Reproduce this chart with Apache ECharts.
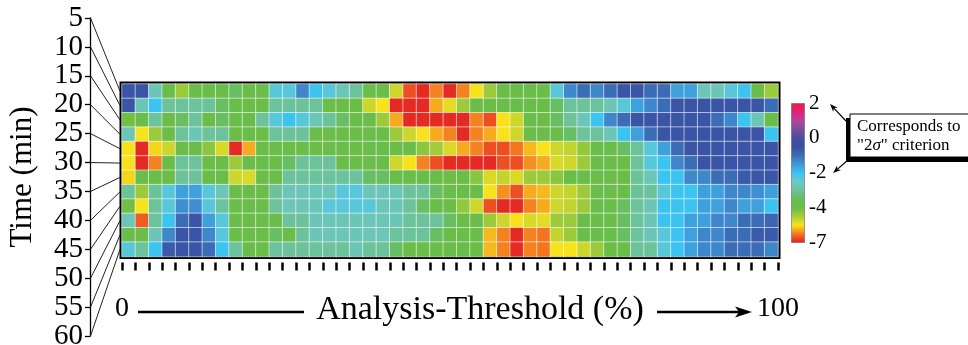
<!DOCTYPE html>
<html>
<head>
<meta charset="utf-8">
<title>Time vs Analysis-Threshold</title>
<script src="https://cdn.jsdelivr.net/npm/echarts@6/dist/echarts.min.js"></script>
<style>
  html, body { margin: 0; padding: 0; background: #fff; }
  #main { width: 968px; height: 345px; }
</style>
</head>
<body>
<div id="main"></div>
<script>
// rows: time (min), columns: analysis-threshold bins from 0 to 100 %
var timeLabels = ['5', '10', '15', '20', '25', '30', '35', '40', '45', '50', '55', '60'];
var thresholdBins = [];
for (var b = 1; b <= 49; b++) thresholdBins.push(String(b));

var min05 = [-0.6,-0.6,-2.7,-3.9,-4.6,-3.9,-3.9,-3.9,-3.4,-3.9, -3.9,-2.3,-2.3,-1.3,-2.0,-2.3,-2.7,-3.0,-3.9,-3.9, -5.1,-6.6,-6.9,-6.2,-6.9,-6.2,-5.5,-4.6,-3.9,-3.9, -3.9,-3.9,-2.3,-1.3,-1.0,-1.3,-1.0,-0.6,-0.6,-1.0, -1.0,-1.6,-1.6,-2.7,-2.7,-2.3,-2.0,-3.9,-4.6];
var min10 = [-0.6,-2.7,-2.0,-3.0,-3.0,-3.0,-3.0,-3.4,-3.9,-3.9, -3.9,-3.0,-3.0,-3.0,-3.0,-3.9,-3.9,-3.9,-5.1,-5.5, -6.9,-6.9,-6.9,-5.9,-5.3,-4.6,-3.9,-3.9,-3.9,-3.9, -3.9,-3.9,-3.4,-3.0,-3.0,-3.0,-2.7,-2.3,-1.6,-1.3, -1.0,-0.6,-0.6,-0.6,-0.6,-0.6,-0.6,-0.6,-1.0];
var min15 = [-4.1,-3.9,-3.0,-3.9,-3.4,-3.0,-3.9,-3.4,-3.9,-3.9, -3.0,-2.3,-2.0,-2.3,-2.7,-3.0,-3.4,-3.9,-3.9,-4.6, -5.9,-6.9,-6.9,-6.9,-6.9,-6.9,-6.2,-6.6,-5.5,-5.1, -3.9,-3.9,-3.4,-3.0,-2.7,-2.0,-1.3,-1.0,-0.6,-0.6, -0.6,-0.6,-0.6,-0.6,-1.0,-1.3,-2.0,-2.7,-3.9];
var min20 = [-2.7,-5.5,-4.6,-3.9,-3.0,-2.7,-3.0,-3.0,-3.9,-3.9, -3.9,-3.0,-3.0,-3.0,-3.9,-3.9,-3.9,-3.9,-3.9,-3.9, -4.6,-5.1,-5.5,-5.9,-6.2,-6.9,-6.2,-5.9,-5.5,-5.1, -3.9,-3.9,-3.9,-3.4,-3.0,-3.0,-2.7,-2.0,-1.6,-1.0, -0.6,-0.6,-0.6,-0.6,-0.6,-0.6,-0.6,-0.6,-2.0];
var min25 = [-5.5,-6.9,-5.6,-5.1,-3.9,-3.9,-4.4,-5.2,-6.9,-5.9, -3.9,-3.9,-3.9,-3.9,-3.9,-3.9,-3.9,-3.9,-3.9,-3.9, -3.9,-3.9,-4.4,-4.7,-5.2,-5.9,-6.2,-6.6,-6.6,-6.3, -5.8,-5.5,-5.1,-5.0,-4.5,-3.9,-3.9,-3.4,-3.0,-2.3, -1.6,-1.0,-0.6,-0.6,-0.6,-0.6,-0.6,-0.6,-0.6];
var min30 = [-5.5,-6.9,-6.2,-3.9,-3.0,-3.0,-3.9,-3.9,-4.6,-3.9, -3.9,-3.9,-3.4,-3.0,-3.0,-3.0,-3.9,-3.9,-3.9,-3.9, -5.1,-5.5,-6.2,-6.6,-6.9,-6.9,-6.9,-6.9,-6.6,-6.6, -6.1,-5.9,-5.2,-5.1,-4.6,-3.9,-3.9,-3.9,-3.0,-2.3, -2.0,-1.3,-1.0,-0.6,-0.6,-0.6,-0.6,-0.6,-0.6];
var min35 = [-5.6,-3.9,-3.9,-3.9,-3.0,-3.0,-3.9,-3.9,-5.1,-5.2, -3.9,-3.9,-3.0,-3.0,-3.0,-3.0,-3.0,-3.0,-3.4,-3.4, -3.9,-3.9,-3.9,-3.9,-3.9,-3.9,-4.4,-5.2,-5.0,-5.2, -4.6,-4.6,-4.4,-3.9,-3.9,-3.9,-3.9,-3.9,-3.0,-2.7, -2.0,-2.0,-1.3,-1.3,-1.0,-1.0,-0.7,-0.6,-0.6];
var min40 = [-3.0,-4.6,-3.0,-2.3,-1.6,-1.6,-2.3,-2.7,-3.9,-3.9, -3.9,-3.0,-2.7,-2.7,-2.7,-2.7,-2.3,-2.3,-2.7,-2.7, -2.7,-3.0,-3.0,-3.4,-3.9,-3.9,-3.9,-5.5,-6.1,-6.6, -5.9,-5.8,-5.1,-5.0,-4.6,-3.9,-3.9,-3.9,-3.0,-3.0, -2.3,-2.0,-2.0,-1.6,-1.6,-1.3,-1.3,-1.4,-1.6];
var min45 = [-4.1,-5.5,-3.0,-2.3,-1.4,-1.4,-2.3,-3.0,-3.9,-3.9, -3.9,-3.0,-2.7,-2.7,-2.7,-2.3,-2.3,-2.3,-2.3,-2.7, -2.7,-3.0,-3.4,-3.9,-3.9,-4.5,-5.1,-6.6,-6.9,-6.9, -6.2,-5.9,-5.1,-5.0,-4.6,-3.9,-3.9,-3.4,-3.0,-2.7, -2.0,-2.0,-2.0,-1.6,-1.6,-1.3,-1.6,-1.6,-2.0];
var min50 = [-2.7,-6.5,-3.0,-2.0,-1.0,-0.6,-1.6,-2.3,-3.9,-3.9, -3.9,-3.9,-3.0,-3.0,-2.7,-2.7,-2.7,-2.7,-2.7,-2.7, -2.7,-3.0,-3.0,-3.0,-3.4,-3.9,-3.9,-4.6,-5.1,-5.5, -5.2,-5.3,-4.6,-4.6,-3.9,-3.9,-3.9,-3.4,-3.0,-2.7, -2.0,-2.0,-1.6,-1.6,-1.3,-1.3,-1.0,-1.0,-0.9];
var min55 = [-3.9,-3.9,-2.7,-1.3,-0.6,-0.6,-1.3,-2.3,-3.9,-3.9, -3.9,-3.4,-3.9,-3.0,-2.7,-2.7,-2.7,-2.7,-2.7,-2.7, -3.0,-3.0,-3.0,-3.4,-3.9,-3.9,-3.9,-5.8,-6.2,-6.9, -6.2,-6.3,-5.0,-4.6,-3.9,-3.9,-3.9,-3.4,-3.0,-2.7, -2.3,-2.0,-1.6,-1.3,-1.3,-1.0,-1.0,-0.7,-0.7];
var min60 = [-2.3,-3.0,-2.0,-0.7,-0.6,-0.6,-1.0,-2.0,-3.0,-3.9, -3.9,-3.0,-3.0,-3.0,-3.0,-3.0,-3.0,-2.7,-3.0,-3.0, -3.4,-3.9,-3.9,-3.9,-3.9,-3.9,-3.9,-5.8,-6.2,-6.9, -6.2,-6.3,-5.5,-5.5,-5.1,-4.6,-3.9,-3.9,-3.0,-3.0, -2.3,-2.0,-1.6,-1.3,-1.3,-1.0,-1.0,-1.0,-1.3];
var rows = [min05, min10, min15, min20, min25, min30, min35, min40, min45, min50, min55, min60];

// colour bar: labelled values sit at equal steps along the bar
var barTicks = [-7, -4, -2, 0, 2];
var barLabels = ['-7', '-4', '-2', '0', '2'];
var barColors = ['#e31e25', '#f47b20', '#f8e21b', '#a8cd39', '#6abd45', '#66bd55', '#6cc29a', '#6cc9cc',
                 '#3cc4f0', '#3f98d8', '#3b6db6', '#3a4fa2', '#4a4c9f', '#7a4c9e', '#b2469a', '#e2207f', '#ec1c3a'];

function toBar(v) {
    for (var k = 0; k < barTicks.length - 1; k++) {
        if (v <= barTicks[k + 1]) {
            return k + (v - barTicks[k]) / (barTicks[k + 1] - barTicks[k]);
        }
    }
    return barTicks.length - 1;
}

var serif = 'Liberation Serif';

var cells = [];
rows.forEach(function (row, r) {
    row.forEach(function (v, c) {
        cells.push([thresholdBins[c], timeLabels[r], v, toBar(v)]);
    });
});

var chart = echarts.init(document.getElementById('main'));

var option = {
    animation: false,
    backgroundColor: '#fff',
    textStyle: { fontFamily: serif },
    grid: [
        //heatmap
        { left: 122, top: 84, width: 656, height: 172.5, show: true, borderColor: '#000', borderWidth: 5, backgroundColor: 'transparent', outerBoundsMode: 'none' },
        //time axis with the fan
        { left: 90, top: 18, width: 10, height: 318, outerBoundsMode: 'none' },
        //colour bar labels
        { left: 791, top: 103, width: 13, height: 139, outerBoundsMode: 'none' }
    ],
    xAxis: [
        {
            gridIndex: 0, type: 'category', data: thresholdBins, position: 'bottom', offset: 6,
            axisLine: { show: false },
            axisTick: { show: true, interval: 0, length: 8, lineStyle: { color: '#000', width: 2.5 } },
            axisLabel: { show: false },
            splitLine: { show: false }
        },
        {
            gridIndex: 0, type: 'value', min: 0, max: 100, interval: 100, position: 'bottom',
            axisLine: { show: false }, axisTick: { show: false }, splitLine: { show: false },
            axisLabel: { margin: 38, fontSize: 28, fontFamily: serif, color: '#000' }
        },
        { gridIndex: 1, type: 'value', min: 0, max: 1, show: false },
        { gridIndex: 2, type: 'value', min: 0, max: 1, show: false }
    ],
    yAxis: [
        { gridIndex: 0, type: 'category', data: timeLabels, inverse: true, show: false },
        {
            gridIndex: 1, type: 'category', data: timeLabels, inverse: true, boundaryGap: false,
            axisLine: { show: true, lineStyle: { color: '#000', width: 1.3 } },
            axisTick: { show: true, length: 5, interval: 0, lineStyle: { color: '#000', width: 1.3 } },
            axisLabel: { interval: 0, margin: 7, fontSize: 29, fontFamily: serif, color: '#000' },
            name: 'Time (min)', nameLocation: 'middle', nameRotate: 90, nameGap: 52,
            nameTextStyle: { fontSize: 31, fontFamily: serif, color: '#000' }
        },
        {
            gridIndex: 2, type: 'value', min: 0, max: 4, interval: 1, position: 'right',
            axisLine: { show: false }, axisTick: { show: false }, splitLine: { show: false },
            axisLabel: {
                margin: 5, fontSize: 21, fontFamily: serif, color: '#000',
                formatter: function (v) { return barLabels[v]; }
            }
        }
    ],
    visualMap: {
        type: 'continuous', min: 0, max: 4, dimension: 3, seriesIndex: 0,
        calculable: false, hoverLink: false, realtime: false,
        left: 791, top: 103, itemWidth: 13, itemHeight: 139, padding: 0,
        borderColor: '#777', borderWidth: 1,
        inRange: { color: barColors }
    },
    series: [{
        type: 'heatmap', xAxisIndex: 0, yAxisIndex: 0, data: cells,
        itemStyle: { borderColor: 'rgba(255,255,255,0.55)', borderWidth: 1 },
        emphasis: { disabled: true }
    }]
};
chart.setOption(option);

function arrow(x1, y1, x2, y2, head, width) {
    var a = Math.atan2(y2 - y1, x2 - x1);
    var bx = x2 - head * Math.cos(a), by = y2 - head * Math.sin(a);
    var nx = -Math.sin(a) * width / 2, ny = Math.cos(a) * width / 2;
    var mx = x2 - head * 0.7 * Math.cos(a), my = y2 - head * 0.7 * Math.sin(a);
    return [
        { type: 'line', shape: { x1: x1, y1: y1, x2: mx, y2: my }, style: { stroke: '#000', lineWidth: 1.2 } },
        { type: 'polygon', shape: { points: [[x2, y2], [bx + nx, by + ny], [mx, my], [bx - nx, by - ny]] }, style: { fill: '#000' } }
    ];
}

var g = [];
// fan lines: time tick -> heatmap row
var c0 = chart.convertToPixel({ xAxisIndex: 0 }, thresholdBins[0]);
var c1 = chart.convertToPixel({ xAxisIndex: 0 }, thresholdBins[1]);
var heatLeft = c0 - (c1 - c0) / 2;
var axisX = chart.convertToPixel({ xAxisIndex: 2 }, 0);
timeLabels.forEach(function (t) {
    var ya = chart.convertToPixel({ yAxisIndex: 1 }, t);
    var yb = chart.convertToPixel({ yAxisIndex: 0 }, t);
    g.push({ type: 'line', shape: { x1: axisX + 0.5, y1: ya, x2: heatLeft - 2, y2: yb }, style: { stroke: '#222', lineWidth: 1 } });
});

// x title with the 0 -> 100 arrow
g.push({ type: 'text', x: 480, y: 310, style: { text: 'Analysis-Threshold (%)', font: '34px ' + serif, fill: '#000', align: 'center', verticalAlign: 'middle' } });
g.push({ type: 'line', shape: { x1: 138, y1: 312, x2: 304, y2: 312 }, style: { stroke: '#000', lineWidth: 2.6 } });
g.push({ type: 'line', shape: { x1: 657, y1: 312, x2: 742, y2: 312 }, style: { stroke: '#000', lineWidth: 2.6 } });
g.push({ type: 'polygon', shape: { points: [[752, 312], [735, 306.5], [739, 312], [735, 317.5]] }, style: { fill: '#000' } });

// note on the colour bar
g.push({ type: 'rect', shape: { x: 846, y: 118, width: 130, height: 44 }, style: { fill: '#000' } });
g.push({ type: 'rect', shape: { x: 850, y: 114, width: 126, height: 43 }, style: { fill: '#fff', stroke: '#000', lineWidth: 1 } });
g.push({ type: 'text', x: 857, y: 127, style: { text: 'Corresponds to', font: '17px ' + serif, fill: '#000', verticalAlign: 'middle' } });
g.push({ type: 'text', x: 857, y: 146, style: { text: '"2{i|σ}" criterion', font: '17px ' + serif, fill: '#000', verticalAlign: 'middle',
    rich: { i: { fontStyle: 'italic', fontSize: 17, fontFamily: serif } } } });
g = g.concat(arrow(846, 121, 830, 104, 8, 6));
g = g.concat(arrow(848, 160, 833, 173, 8, 6));

chart.setOption({ graphic: g.map(function (e) { e.z = 100; return e; }) });
</script>
</body>
</html>
